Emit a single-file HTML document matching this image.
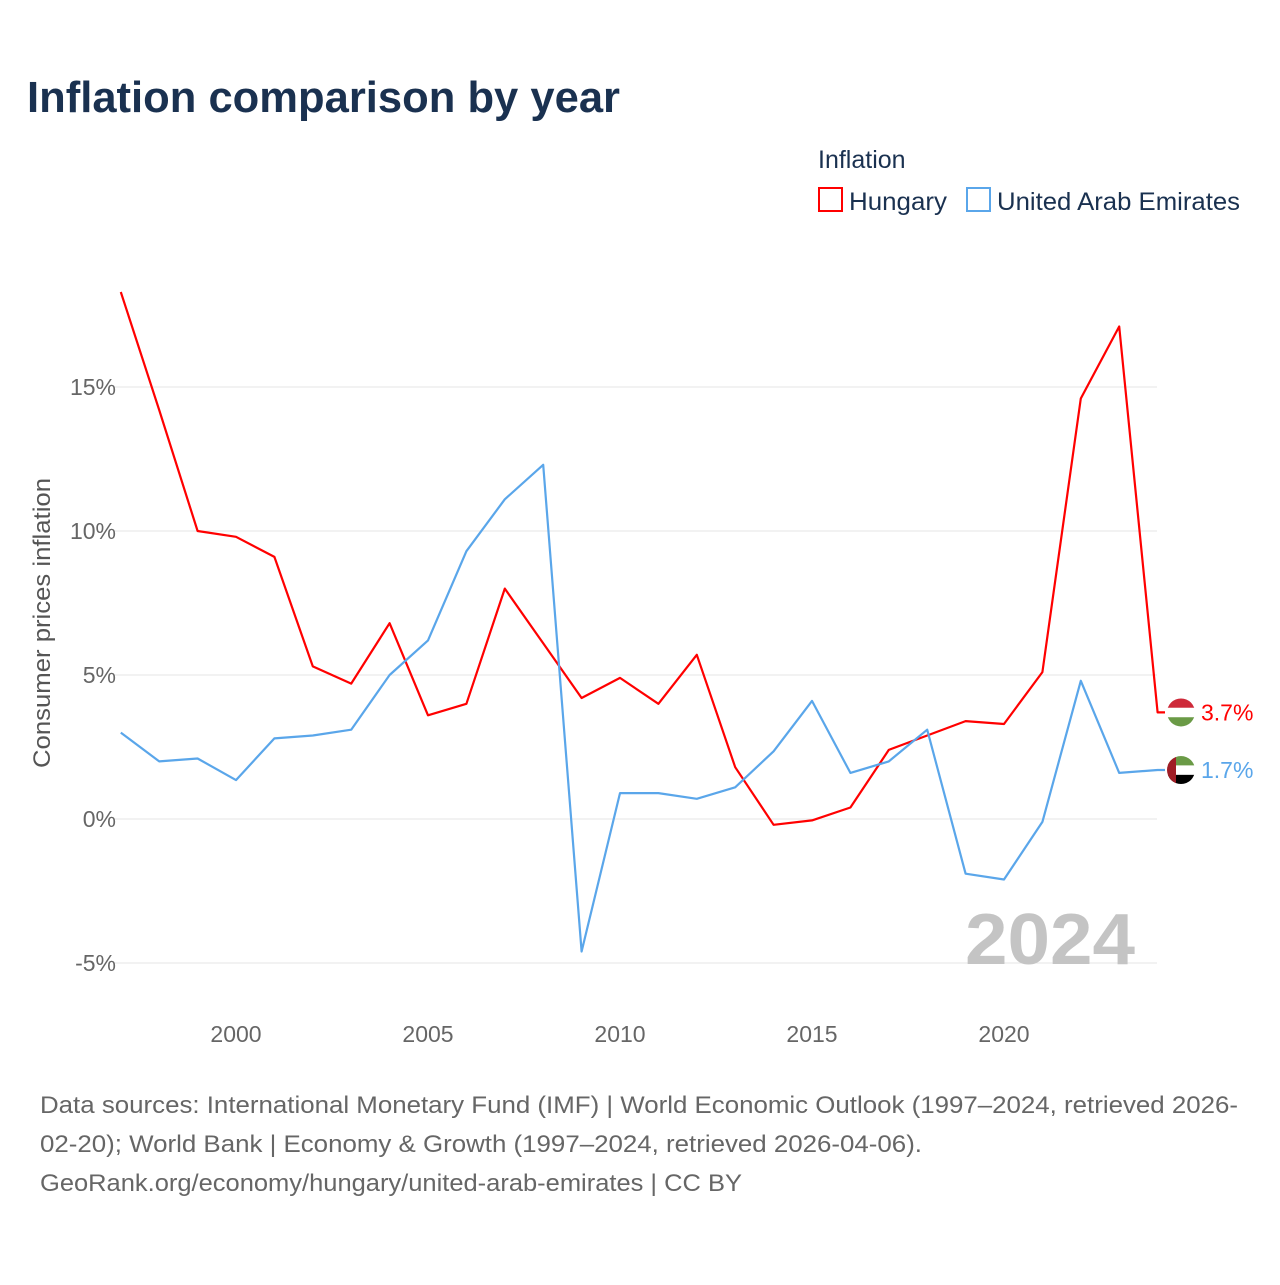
<!DOCTYPE html>
<html><head><meta charset="utf-8"><style>
body{margin:0;background:#fff;font-family:"Liberation Sans",sans-serif}
svg text{font-family:"Liberation Sans",sans-serif}
</style></head><body>
<svg id="chart" width="1280" height="1280" viewBox="0 0 1280 1280" xmlns="http://www.w3.org/2000/svg">
<rect width="1280" height="1280" fill="#fff"/>
<text x="27" y="112" font-size="44" font-weight="bold" fill="#1a3150" textLength="593" lengthAdjust="spacingAndGlyphs">Inflation comparison by year</text>
<text x="818" y="168" font-size="25" fill="#1a3150">Inflation</text>
<g><rect x="819" y="188" width="23" height="23" fill="none" stroke="#ff0000" stroke-width="2"/><text x="849" y="210" font-size="25" fill="#1a3150" textLength="98" lengthAdjust="spacingAndGlyphs">Hungary</text></g>
<g><rect x="967" y="188" width="23" height="23" fill="none" stroke="#5aa6ea" stroke-width="2"/><text x="997" y="210" font-size="25" fill="#1a3150" textLength="243" lengthAdjust="spacingAndGlyphs">United Arab Emirates</text></g>
<text transform="translate(50,623) rotate(-90)" text-anchor="middle" font-size="24" fill="#555" textLength="290" lengthAdjust="spacingAndGlyphs">Consumer prices inflation</text>
<g id="grid"></g><g id="ticks"></g><g id="series"></g>
<text x="965" y="964" font-size="72" font-weight="bold" fill="#c4c4c4" textLength="170" lengthAdjust="spacingAndGlyphs">2024</text>
<g font-size="24" fill="#666">
<text x="40" y="1113" textLength="1198" lengthAdjust="spacingAndGlyphs">Data sources: International Monetary Fund (IMF) | World Economic Outlook (1997–2024, retrieved 2026-</text>
<text x="40" y="1152" textLength="882" lengthAdjust="spacingAndGlyphs">02-20); World Bank | Economy &amp; Growth (1997–2024, retrieved 2026-04-06).</text>
<text x="40" y="1191" textLength="702" lengthAdjust="spacingAndGlyphs">GeoRank.org/economy/hungary/united-arab-emirates | CC BY</text>
</g>
</svg>
<script>
const years=[1997,1998,1999,2000,2001,2002,2003,2004,2005,2006,2007,2008,2009,2010,2011,2012,2013,2014,2015,2016,2017,2018,2019,2020,2021,2022,2023,2024];
const hungary=[18.3,14.2,10.0,9.8,9.1,5.3,4.7,6.8,3.6,4.0,8.0,6.1,4.2,4.9,4.0,5.7,1.8,-0.2,-0.05,0.4,2.4,2.9,3.4,3.3,5.1,14.6,17.1,3.7];
const uae=[3.0,2.0,2.1,1.35,2.8,2.9,3.1,5.0,6.2,9.3,11.1,12.3,-4.6,0.9,0.9,0.7,1.1,2.35,4.1,1.6,2.0,3.1,-1.9,-2.1,-0.1,4.8,1.6,1.7];
const yTicks=[-5,0,5,10,15];
const yTickLabels=["-5%","0%","5%","10%","15%"];
const xTicks=[2000,2005,2010,2015,2020];
const NS="http://www.w3.org/2000/svg";
const x=v=>236+(v-2000)*38.4;
const y=v=>819-v*28.8;
function mk(tag,attrs,parent){const e=document.createElementNS(NS,tag);for(const k in attrs)e.setAttribute(k,attrs[k]);parent.appendChild(e);return e;}
const grid=document.getElementById('grid'),ticks=document.getElementById('ticks'),series=document.getElementById('series');
yTicks.forEach((t,i)=>{
 const l=mk('line',{x1:115,x2:1157,y1:y(t),y2:y(t),stroke:'#e6e6e6','stroke-width':1},grid);
 
 
 const tx=mk('text',{x:116,y:y(t)+8,'text-anchor':'end','font-size':23,fill:'#666'},ticks);
 tx.textContent=yTickLabels[i];
 
 
});
xTicks.forEach(t=>{
 const tx=mk('text',{x:x(t),y:1042,'text-anchor':'middle','font-size':23,fill:'#666'},ticks);
 tx.textContent=t;
 
 
});
function line(vals,color,name){
 let d=vals.map((v,i)=>(i?'L':'M')+x(years[i]).toFixed(1)+','+y(v).toFixed(1)).join(' ');
 d+=' L1165,'+y(vals[vals.length-1]).toFixed(1);
 const p=mk('path',{d:d,fill:'none',stroke:color,'stroke-width':2.2,'stroke-linejoin':'round'},series);
 
 
}
line(hungary,'#ff0000','hungary-line');
line(uae,'#5aa6ea','uae-line');
const hv=hungary[hungary.length-1],uv=uae[uae.length-1];
const cx=1181,r=14;
let hy=y(hv);
const hf=mk('g',{},series);


const cph=mk('clipPath',{id:'ch'},hf);mk('circle',{cx:cx,cy:hy,r:r},cph);
mk('rect',{x:cx-r,y:hy-r,width:28,height:9.4,fill:'#ce2939','clip-path':'url(#ch)'},hf);
mk('rect',{x:cx-r,y:hy-r+9.4,width:28,height:9.4,fill:'#fff','clip-path':'url(#ch)'},hf);
mk('rect',{x:cx-r,y:hy-r+18.8,width:28,height:9.4,fill:'#6a9a46','clip-path':'url(#ch)'},hf);
let uy=y(uv);
const uf=mk('g',{},series);


const cp=mk('clipPath',{id:'cu'},uf);mk('circle',{cx:cx,cy:uy,r:r},cp);
mk('rect',{x:cx-r,y:uy-r,width:28,height:9.4,fill:'#6a9a46','clip-path':'url(#cu)'},uf);
mk('rect',{x:cx-r,y:uy-r+9.4,width:28,height:9.4,fill:'#fff','clip-path':'url(#cu)'},uf);
mk('rect',{x:cx-r,y:uy-r+18.8,width:28,height:9.4,fill:'#000','clip-path':'url(#cu)'},uf);
mk('rect',{x:cx-r,y:uy-r,width:9,height:28,fill:'#a01d26','clip-path':'url(#cu)'},uf);
const hl=mk('text',{x:1201,y:hy+8,'font-size':23,fill:'#ff0000'},series);
hl.textContent=hv.toFixed(1)+'%';


const ul=mk('text',{x:1201,y:uy+8,'font-size':23,fill:'#5aa6ea'},series);
ul.textContent=uv.toFixed(1)+'%';


</script>
</body></html>
